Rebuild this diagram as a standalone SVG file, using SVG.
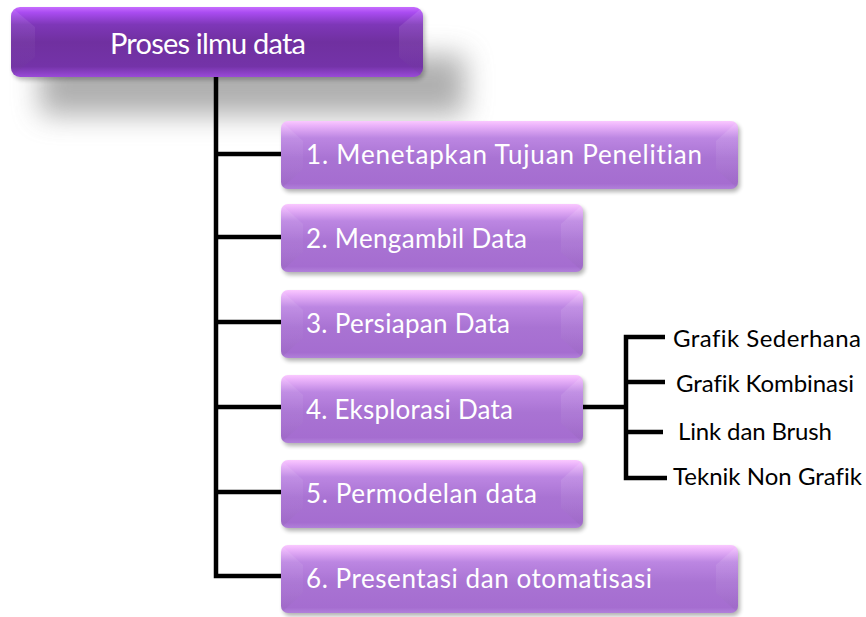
<svg xmlns="http://www.w3.org/2000/svg" xmlns:xlink="http://www.w3.org/1999/xlink" width="866" height="617" viewBox="0 0 866 617">
  <style>
    .lbl { font-family: Lato, "Open Sans", "Liberation Sans", sans-serif; fill: #ffffff; font-variant-ligatures: none; font-feature-settings: "liga" 0, "clig" 0, "dlig" 0; }
    .root-lbl { font-size: 29px; }
    .step-lbl { font-size: 26px; }
    .leaf-lbl { font-family: Lato, "Open Sans", "Liberation Sans", sans-serif; font-size: 24px; fill: #000000; font-variant-ligatures: none; font-feature-settings: "liga" 0, "clig" 0, "dlig" 0; }
    .wire { fill: none; stroke: #000000; stroke-width: 4.5; stroke-linejoin: miter; stroke-linecap: butt; }
    .facetL { fill: url(#gFacetL); }
    .facetR { fill: url(#gFacetR); }
  </style>
  <defs>
    <linearGradient id="gChild" x1="0" y1="0" x2="0" y2="1">
      <stop offset="0" stop-color="#fac8ff"/>
      <stop offset="0.07" stop-color="#eab2fa"/>
      <stop offset="0.25" stop-color="#bc86e2"/>
      <stop offset="0.55" stop-color="#a973d3"/>
      <stop offset="0.92" stop-color="#a56dd0"/>
      <stop offset="1" stop-color="#b180da"/>
    </linearGradient>
    <linearGradient id="gRoot" x1="0" y1="0" x2="0" y2="1">
      <stop offset="0" stop-color="#c76cff"/>
      <stop offset="0.08" stop-color="#a94cf0"/>
      <stop offset="0.25" stop-color="#7e37b8"/>
      <stop offset="0.5" stop-color="#7030a0"/>
      <stop offset="0.85" stop-color="#7433a8"/>
      <stop offset="1" stop-color="#9a4ad8"/>
    </linearGradient>
    <linearGradient id="gFacetL" x1="0" y1="0" x2="0" y2="1">
      <stop offset="0" stop-color="#ffffff" stop-opacity="0.1"/>
      <stop offset="0.6" stop-color="#ffffff" stop-opacity="0.03"/>
      <stop offset="1" stop-color="#000000" stop-opacity="0.05"/>
    </linearGradient>
    <linearGradient id="gFacetR" x1="0" y1="0" x2="0" y2="1">
      <stop offset="0" stop-color="#ffffff" stop-opacity="0.12"/>
      <stop offset="0.6" stop-color="#ffffff" stop-opacity="0.05"/>
      <stop offset="1" stop-color="#000000" stop-opacity="0.04"/>
    </linearGradient>
    <filter id="fSoft" x="-30%" y="-100%" width="160%" height="300%">
      <feGaussianBlur stdDeviation="14"/>
    </filter>
    <filter id="fDrop" x="-5%" y="-20%" width="110%" height="140%">
      <feGaussianBlur stdDeviation="2"/>
    </filter>
    <clipPath id="cWide"><rect width="457" height="68" rx="7"/></clipPath>
    <clipPath id="cNarrow"><rect width="302" height="68" rx="7"/></clipPath>
    <clipPath id="cRoot"><rect width="412" height="70" rx="9"/></clipPath>

    <!-- wide step box -->
    <g id="boxWide">
      <rect x="2" y="3" width="457" height="68" rx="7" fill="#000" opacity="0.3" filter="url(#fDrop)"/>
      <rect width="457" height="68" rx="7" fill="url(#gChild)"/>
      <g clip-path="url(#cWide)">
        <polygon class="facetL" points="0,0 22,20 22,48 0,68"/>
        <polygon class="facetR" points="457,0 435,20 435,48 457,68"/>
      </g>
    </g>
    <!-- narrow step box -->
    <g id="boxNarrow">
      <rect x="2" y="3" width="302" height="68" rx="7" fill="#000" opacity="0.3" filter="url(#fDrop)"/>
      <rect width="302" height="68" rx="7" fill="url(#gChild)"/>
      <g clip-path="url(#cNarrow)">
        <polygon class="facetL" points="0,0 22,20 22,48 0,68"/>
        <polygon class="facetR" points="302,0 280,20 280,48 302,68"/>
      </g>
    </g>
  </defs>

  <rect width="866" height="617" fill="#ffffff"/>

  <!-- soft shadow under the title -->
  <rect x="40" y="55" width="425" height="60" fill="#7a7a7a" opacity="0.6" filter="url(#fSoft)"/>

  <!-- connectors -->
  <g id="connectors">
    <path class="wire" d="M216,77 V576 H281"/>
    <path class="wire" d="M216,154 H281 M216,237 H281 M216,322 H281 M216,407 H281 M216,492 H281"/>
    <path class="wire" d="M583,407 H626"/>
    <path class="wire" d="M665,337 H626 V478 H667"/>
    <path class="wire" d="M626,382 H665 M626,432 H663"/>
  </g>

  <!-- title -->
  <g id="root">
    <rect x="13" y="10" width="412" height="70" rx="9" fill="#000" opacity="0.25" filter="url(#fDrop)"/>
    <g transform="translate(11,7)">
      <rect width="412" height="70" rx="9" fill="url(#gRoot)"/>
      <g clip-path="url(#cRoot)">
        <polygon class="facetL" points="0,0 24,20 24,50 0,70"/>
        <polygon class="facetR" points="412,0 388,20 388,50 412,70"/>
      </g>
    </g>
    <text class="lbl root-lbl" x="110" y="54" textLength="196">Proses ilmu data</text>
  </g>

  <!-- steps -->
  <g id="step1">
    <use xlink:href="#boxWide" x="281" y="121"/>
    <text class="lbl step-lbl" x="306" y="164" textLength="396">1. Menetapkan Tujuan Penelitian</text>
  </g>
  <g id="step2">
    <use xlink:href="#boxNarrow" x="281" y="204"/>
    <text class="lbl step-lbl" x="306" y="248" textLength="221">2. Mengambil Data</text>
  </g>
  <g id="step3">
    <use xlink:href="#boxNarrow" x="281" y="290"/>
    <text class="lbl step-lbl" x="306" y="333" textLength="204">3. Persiapan Data</text>
  </g>
  <g id="step4">
    <use xlink:href="#boxNarrow" x="281" y="375"/>
    <text class="lbl step-lbl" x="306" y="419" textLength="207">4. Eksplorasi Data</text>
  </g>
  <g id="step5">
    <use xlink:href="#boxNarrow" x="281" y="460"/>
    <text class="lbl step-lbl" x="306" y="503" textLength="231">5. Permodelan data</text>
  </g>
  <g id="step6">
    <use xlink:href="#boxWide" x="281" y="545"/>
    <text class="lbl step-lbl" x="306" y="588" textLength="346">6. Presentasi dan otomatisasi</text>
  </g>

  <!-- exploration techniques -->
  <g id="leaf1"><text class="leaf-lbl" x="673" y="347" textLength="188">Grafik Sederhana</text></g>
  <g id="leaf2"><text class="leaf-lbl" x="676" y="392" textLength="178">Grafik Kombinasi</text></g>
  <g id="leaf3"><text class="leaf-lbl" x="678" y="440" textLength="154">Link dan Brush</text></g>
  <g id="leaf4"><text class="leaf-lbl" x="673" y="485" textLength="189">Teknik Non Grafik</text></g>
</svg>
